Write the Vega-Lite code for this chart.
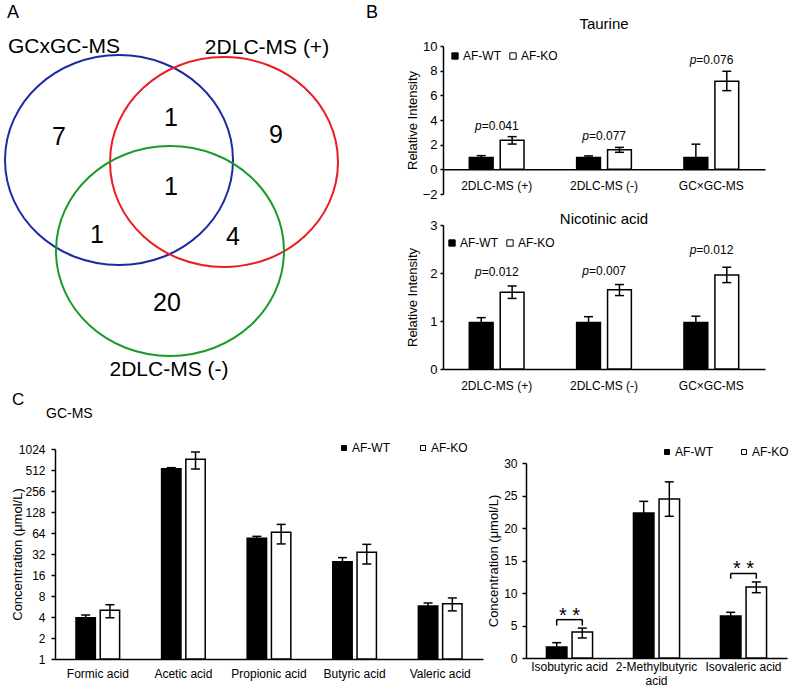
{
  "$schema": "https://vega.github.io/schema/vega-lite/v6.json",
  "padding": 0,
  "spacing": 0,
  "config": {
    "view": {"stroke": null},
    "font": "Liberation Sans",
    "axis": {"domainColor": "black", "domainWidth": 1.5, "tickColor": "black", "tickWidth": 1.5, "labelColor": "black", "titleColor": "black", "labelFont": "Liberation Sans", "titleFont": "Liberation Sans", "labelFontSize": 12, "titleFontSize": 13, "titleFontWeight": "normal", "grid": false, "labelOverlap": false},
    "legend": {"labelFont": "Liberation Sans", "labelFontSize": 12, "labelColor": "black", "symbolType": "square", "symbolStrokeColor": "black", "symbolStrokeWidth": 1, "labelOffset": 2},
    "title": {"font": "Liberation Sans", "fontWeight": "normal", "color": "black"}
  },
  "datasets": {
    "venn_sets": [
      {"set": "GCxGC-MS", "cx": 119, "cy": 160},
      {"set": "2DLC-MS (+)", "cx": 224, "cy": 162},
      {"set": "2DLC-MS (-)", "cx": 170, "cy": 251}
    ],
    "venn_names": [
      {"label": "GCxGC-MS", "x": 64, "y": 47},
      {"label": "2DLC-MS (+)", "x": 267, "y": 48},
      {"label": "2DLC-MS (-)", "x": 169, "y": 370}
    ],
    "venn_counts": [
      {"n": "7", "x": 59, "y": 137},
      {"n": "1", "x": 171, "y": 118},
      {"n": "9", "x": 276, "y": 135},
      {"n": "1", "x": 171, "y": 187},
      {"n": "1", "x": 97, "y": 235},
      {"n": "4", "x": 233, "y": 237},
      {"n": "20", "x": 167, "y": 303}
    ],
    "panel_letters": [
      {"t": "A", "x": 13, "y": 13},
      {"t": "B", "x": 372, "y": 13}
    ],
    "taurine": [
      {"method": "2DLC-MS (+)", "group": "AF-WT", "value": 0.95, "lo": 0.79, "hi": 1.11},
      {"method": "2DLC-MS (+)", "group": "AF-KO", "value": 2.35, "lo": 2.05, "hi": 2.65},
      {"method": "2DLC-MS (-)", "group": "AF-WT", "value": 0.95, "lo": 0.81, "hi": 1.09},
      {"method": "2DLC-MS (-)", "group": "AF-KO", "value": 1.58, "lo": 1.38, "hi": 1.78},
      {"method": "GC×GC-MS", "group": "AF-WT", "value": 0.95, "lo": 0, "hi": 2.04},
      {"method": "GC×GC-MS", "group": "AF-KO", "value": 7.15, "lo": 6.38, "hi": 7.95}
    ],
    "taurine_p": [
      {"method": "2DLC-MS (+)", "ptext": "=0.041", "py": 3.49},
      {"method": "2DLC-MS (-)", "ptext": "=0.077", "py": 2.68},
      {"method": "GC×GC-MS", "ptext": "=0.076", "py": 8.84}
    ],
    "nicotinic": [
      {"method": "2DLC-MS (+)", "group": "AF-WT", "value": 0.97, "lo": 0.87, "hi": 1.07},
      {"method": "2DLC-MS (+)", "group": "AF-KO", "value": 1.6, "lo": 1.47, "hi": 1.73},
      {"method": "2DLC-MS (-)", "group": "AF-WT", "value": 0.97, "lo": 0.85, "hi": 1.09},
      {"method": "2DLC-MS (-)", "group": "AF-KO", "value": 1.65, "lo": 1.53, "hi": 1.76},
      {"method": "GC×GC-MS", "group": "AF-WT", "value": 0.97, "lo": 0.84, "hi": 1.1},
      {"method": "GC×GC-MS", "group": "AF-KO", "value": 1.96, "lo": 1.8, "hi": 2.12}
    ],
    "nicotinic_p": [
      {"method": "2DLC-MS (+)", "ptext": "=0.012", "py": 2.03},
      {"method": "2DLC-MS (-)", "ptext": "=0.007", "py": 2.05},
      {"method": "GC×GC-MS", "ptext": "=0.012", "py": 2.48}
    ],
    "gc1": [
      {"acid": "Formic acid", "group": "AF-WT", "value": 3.9, "lo": 3.55, "hi": 4.27},
      {"acid": "Formic acid", "group": "AF-KO", "value": 5.0, "lo": 3.9, "hi": 6.0},
      {"acid": "Acetic acid", "group": "AF-WT", "value": 535, "lo": 517, "hi": 553},
      {"acid": "Acetic acid", "group": "AF-KO", "value": 728, "lo": 529, "hi": 927},
      {"acid": "Propionic acid", "group": "AF-WT", "value": 53.7, "lo": 50.2, "hi": 57.3},
      {"acid": "Propionic acid", "group": "AF-KO", "value": 65.4, "lo": 44.6, "hi": 85},
      {"acid": "Butyric acid", "group": "AF-WT", "value": 24.8, "lo": 21.2, "hi": 28.4},
      {"acid": "Butyric acid", "group": "AF-KO", "value": 33.8, "lo": 23, "hi": 44},
      {"acid": "Valeric acid", "group": "AF-WT", "value": 5.75, "lo": 5.2, "hi": 6.35},
      {"acid": "Valeric acid", "group": "AF-KO", "value": 6.2, "lo": 4.9, "hi": 7.5}
    ],
    "gc2": [
      {"acid": "Isobutyric acid", "group": "AF-WT", "value": 1.69, "lo": 1.0, "hi": 2.36},
      {"acid": "Isobutyric acid", "group": "AF-KO", "value": 4.0, "lo": 3.08, "hi": 4.6},
      {"acid": "2-Methylbutyric acid", "group": "AF-WT", "value": 22.3, "lo": 20.5, "hi": 24.1},
      {"acid": "2-Methylbutyric acid", "group": "AF-KO", "value": 24.46, "lo": 21.8, "hi": 27.1},
      {"acid": "Isovaleric acid", "group": "AF-WT", "value": 6.46, "lo": 5.9, "hi": 7.03},
      {"acid": "Isovaleric acid", "group": "AF-KO", "value": 10.92, "lo": 10.05, "hi": 11.7}
    ],
    "bracket_legs": [
      {"acid": "Isobutyric acid", "group": "AF-WT", "top": 5.9, "bot": 5.0},
      {"acid": "Isobutyric acid", "group": "AF-KO", "top": 5.9, "bot": 5.0},
      {"acid": "Isovaleric acid", "group": "AF-WT", "top": 13.0, "bot": 12.2},
      {"acid": "Isovaleric acid", "group": "AF-KO", "top": 13.0, "bot": 12.2}
    ],
    "stars": [
      {"acid": "Isobutyric acid", "top": 5.9, "star": 6.5, "label": "* *"},
      {"acid": "Isovaleric acid", "top": 13.0, "star": 13.7, "label": "* *"}
    ]
  },
  "resolve": {"scale": {"color": "independent"}, "legend": {"color": "independent"}},
  "vconcat": [
    {
      "spacing": 6,
      "resolve": {"scale": {"color": "independent"}, "legend": {"color": "independent"}},
      "hconcat": [
        {
          "width": 400,
          "height": 380,
          "layer": [
            {
              "data": {"name": "venn_sets"},
              "mark": {"type": "point", "shape": "M -1 0 A 1 0.921 0 1 1 1 0 A 1 0.921 0 1 1 -1 0 Z", "size": 51984, "filled": false, "strokeWidth": 2, "opacity": 1},
              "encoding": {
                "x": {"field": "cx", "type": "quantitative", "scale": {"domain": [0, 400], "nice": false}, "axis": null},
                "y": {"field": "cy", "type": "quantitative", "scale": {"domain": [0, 380], "nice": false, "reverse": true}, "axis": null},
                "color": {"field": "set", "type": "nominal", "scale": {"domain": ["GCxGC-MS", "2DLC-MS (+)", "2DLC-MS (-)"], "range": ["#1b2ca3", "#ec1c24", "#1a9a2a"]}, "legend": null}
              }
            },
            {
              "data": {"name": "venn_names"},
              "mark": {"type": "text", "fontSize": 21, "align": "center", "baseline": "middle", "color": "black"},
              "encoding": {
                "x": {"field": "x", "type": "quantitative"},
                "y": {"field": "y", "type": "quantitative"},
                "text": {"field": "label"}
              }
            },
            {
              "data": {"name": "venn_counts"},
              "mark": {"type": "text", "fontSize": 25, "align": "center", "baseline": "middle", "color": "black"},
              "encoding": {
                "x": {"field": "x", "type": "quantitative"},
                "y": {"field": "y", "type": "quantitative"},
                "text": {"field": "n"}
              }
            },
            {
              "data": {"name": "panel_letters"},
              "mark": {"type": "text", "fontSize": 18, "align": "center", "baseline": "middle", "color": "black"},
              "encoding": {
                "x": {"field": "x", "type": "quantitative"},
                "y": {"field": "y", "type": "quantitative"},
                "text": {"field": "t"}
              }
            }
          ]
        },
        {
          "spacing": 11,
          "resolve": {"scale": {"color": "independent", "xOffset": "independent"}, "legend": {"color": "independent"}},
          "vconcat": [
            {"width": 300, "height": 6, "data": {"values": []}, "mark": "point"},
            {
              "width": 322,
              "height": 148,
              "title": {"text": "Taurine", "fontSize": 15, "offset": 8},
              "data": {"name": "taurine"},
              "encoding": {
                "x": {"field": "method", "type": "nominal", "sort": null, "scale": {"paddingInner": 0.49, "paddingOuter": 0.245}, "axis": {"title": null, "labelAngle": 0, "ticks": false, "labelPadding": 11, "offset": -24.67}}
              },
              "layer": [
                {
                  "mark": {"type": "bar", "stroke": "black", "strokeWidth": 1.5},
                  "encoding": {
                    "xOffset": {"field": "group", "type": "nominal", "sort": null, "scale": {"paddingInner": 0.23}},
                    "y": {"field": "value", "type": "quantitative", "scale": {"domain": [-2, 10], "nice": false, "zero": false}, "axis": {"title": "Relative Intensity", "values": [-2, 0, 2, 4, 6, 8, 10], "format": "d", "tickCount": 20, "labelOverlap": false, "labelFontSize": 13, "tickSize": 3, "labelPadding": 3, "minExtent": 20, "maxExtent": 20, "titlePadding": 4}},
                    "color": {"field": "group", "type": "nominal", "sort": null, "scale": {"domain": ["AF-WT", "AF-KO"], "range": ["#000000", "#ffffff"]}, "legend": {"title": null, "orient": "none", "direction": "horizontal", "legendX": 6, "legendY": 4, "columnPadding": 6, "symbolSize": 40}}
                  }
                },
                {
                  "mark": {"type": "rule", "strokeWidth": 1.5, "color": "black"},
                  "encoding": {
                    "xOffset": {"field": "group", "type": "nominal", "sort": null},
                    "y": {"field": "lo", "type": "quantitative"},
                    "y2": {"field": "hi"}
                  }
                },
                {
                  "mark": {"type": "tick", "size": 9, "thickness": 1.5, "color": "black", "opacity": 1},
                  "encoding": {
                    "xOffset": {"field": "group", "type": "nominal", "sort": null},
                    "y": {"field": "hi", "type": "quantitative"}
                  }
                },
                {
                  "mark": {"type": "tick", "size": 9, "thickness": 1.5, "color": "black", "opacity": 1},
                  "encoding": {
                    "xOffset": {"field": "group", "type": "nominal", "sort": null},
                    "y": {"field": "lo", "type": "quantitative"}
                  }
                },
                {
                  "data": {"name": "taurine_p"},
                  "mark": {"type": "text", "text": "p", "fontStyle": "italic", "align": "right", "baseline": "middle", "dx": -15, "fontSize": 12, "color": "black"},
                  "encoding": {"y": {"field": "py", "type": "quantitative"}}
                },
                {
                  "data": {"name": "taurine_p"},
                  "mark": {"type": "text", "align": "left", "baseline": "middle", "dx": -15, "fontSize": 12, "color": "black"},
                  "encoding": {"y": {"field": "py", "type": "quantitative"}, "text": {"field": "ptext"}}
                }
              ]
            },
            {
              "width": 322,
              "height": 144,
              "title": {"text": "Nicotinic acid", "fontSize": 15, "offset": -8},
              "data": {"name": "nicotinic"},
              "encoding": {
                "x": {"field": "method", "type": "nominal", "sort": null, "scale": {"paddingInner": 0.49, "paddingOuter": 0.245}, "axis": {"title": null, "labelAngle": 0, "ticks": false, "labelPadding": 11}}
              },
              "layer": [
                {
                  "mark": {"type": "bar", "stroke": "black", "strokeWidth": 1.5},
                  "encoding": {
                    "xOffset": {"field": "group", "type": "nominal", "sort": null, "scale": {"paddingInner": 0.23}},
                    "y": {"field": "value", "type": "quantitative", "scale": {"domain": [0, 3], "nice": false}, "axis": {"title": "Relative Intensity", "values": [0, 1, 2, 3], "format": "d", "tickCount": 20, "labelOverlap": false, "labelFontSize": 13, "tickSize": 3, "labelPadding": 3, "minExtent": 20, "maxExtent": 20, "titlePadding": 4}},
                    "color": {"field": "group", "type": "nominal", "sort": null, "scale": {"domain": ["AF-WT", "AF-KO"], "range": ["#000000", "#ffffff"]}, "legend": {"title": null, "orient": "none", "direction": "horizontal", "legendX": 3, "legendY": 12, "columnPadding": 6, "symbolSize": 40}}
                  }
                },
                {
                  "mark": {"type": "rule", "strokeWidth": 1.5, "color": "black"},
                  "encoding": {
                    "xOffset": {"field": "group", "type": "nominal", "sort": null},
                    "y": {"field": "lo", "type": "quantitative"},
                    "y2": {"field": "hi"}
                  }
                },
                {
                  "mark": {"type": "tick", "size": 9, "thickness": 1.5, "color": "black", "opacity": 1},
                  "encoding": {
                    "xOffset": {"field": "group", "type": "nominal", "sort": null},
                    "y": {"field": "hi", "type": "quantitative"}
                  }
                },
                {
                  "mark": {"type": "tick", "size": 9, "thickness": 1.5, "color": "black", "opacity": 1},
                  "encoding": {
                    "xOffset": {"field": "group", "type": "nominal", "sort": null},
                    "y": {"field": "lo", "type": "quantitative"}
                  }
                },
                {
                  "data": {"name": "nicotinic_p"},
                  "mark": {"type": "text", "text": "p", "fontStyle": "italic", "align": "right", "baseline": "middle", "dx": -15, "fontSize": 12, "color": "black"},
                  "encoding": {"y": {"field": "py", "type": "quantitative"}}
                },
                {
                  "data": {"name": "nicotinic_p"},
                  "mark": {"type": "text", "align": "left", "baseline": "middle", "dx": -15, "fontSize": 12, "color": "black"},
                  "encoding": {"y": {"field": "py", "type": "quantitative"}, "text": {"field": "ptext"}}
                }
              ]
            }
          ]
        }
      ]
    },
    {
      "title": {"text": "C", "anchor": "start", "fontSize": 17, "dx": 12, "offset": -2},
      "resolve": {"scale": {"color": "independent"}, "legend": {"color": "independent"}},
      "vconcat": [
        {
          "title": {"text": "GC-MS", "anchor": "start", "fontSize": 14, "dx": 46, "offset": 21},
          "spacing": 4,
          "resolve": {"scale": {"color": "independent", "xOffset": "independent"}, "legend": {"color": "independent"}},
          "hconcat": [
            {"width": 7, "height": 10, "data": {"values": []}, "mark": "point"},
            {
              "width": 428,
              "height": 210,
              "data": {"name": "gc1"},
              "encoding": {
                "x": {"field": "acid", "type": "nominal", "sort": null, "scale": {"paddingInner": 0.49, "paddingOuter": 0.245}, "axis": {"title": null, "labelAngle": 0, "ticks": false, "labelPadding": 9}}
              },
              "layer": [
                {
                  "mark": {"type": "bar", "stroke": "black", "strokeWidth": 1.5},
                  "encoding": {
                    "xOffset": {"field": "group", "type": "nominal", "sort": null, "scale": {"paddingInner": 0.2}},
                    "y": {"field": "value", "type": "quantitative", "scale": {"type": "log", "base": 2, "domain": [1, 1024], "nice": false}, "axis": {"title": "Concentration (μmol/L)", "values": [1, 2, 4, 8, 16, 32, 64, 128, 256, 512, 1024], "tickCount": 20, "format": "d", "labelOverlap": false, "tickSize": 4, "labelPadding": 6, "minExtent": 27, "maxExtent": 27, "titlePadding": 4}},
                    "y2": {"datum": 1},
                    "color": {"field": "group", "type": "nominal", "sort": null, "scale": {"domain": ["AF-WT", "AF-KO"], "range": ["#000000", "#ffffff"]}, "legend": {"title": null, "orient": "none", "direction": "horizontal", "legendX": 283, "legendY": -7, "columnPadding": 27, "symbolSize": 25}}
                  }
                },
                {
                  "mark": {"type": "rule", "strokeWidth": 1.5, "color": "black"},
                  "encoding": {
                    "xOffset": {"field": "group", "type": "nominal", "sort": null},
                    "y": {"field": "lo", "type": "quantitative"},
                    "y2": {"field": "hi"}
                  }
                },
                {
                  "mark": {"type": "tick", "size": 9, "thickness": 1.5, "color": "black", "opacity": 1},
                  "encoding": {
                    "xOffset": {"field": "group", "type": "nominal", "sort": null},
                    "y": {"field": "hi", "type": "quantitative"}
                  }
                },
                {
                  "mark": {"type": "tick", "size": 9, "thickness": 1.5, "color": "black", "opacity": 1},
                  "encoding": {
                    "xOffset": {"field": "group", "type": "nominal", "sort": null},
                    "y": {"field": "lo", "type": "quantitative"}
                  }
                }
              ]
            },
            {
              "width": 261,
              "height": 209,
              "data": {"name": "gc2"},
              "encoding": {
                "x": {"field": "acid", "type": "nominal", "sort": null, "scale": {"paddingInner": 0.47, "paddingOuter": 0.235}, "axis": {"title": null, "labelAngle": 0, "ticks": false, "labelPadding": 3, "labelLineHeight": 14, "labelExpr": "datum.label == '2-Methylbutyric acid' ? ['2-Methylbutyric', 'acid'] : datum.label"}}
              },
              "layer": [
                {
                  "mark": {"type": "bar", "stroke": "black", "strokeWidth": 1.5},
                  "encoding": {
                    "xOffset": {"field": "group", "type": "nominal", "sort": null, "scale": {"paddingInner": 0.2}},
                    "y": {"field": "value", "type": "quantitative", "scale": {"domain": [0, 30], "nice": false, "range": [209, 14]}, "axis": {"title": "Concentration (μmol/L)", "values": [0, 5, 10, 15, 20, 25, 30], "format": "d", "tickCount": 20, "labelOverlap": false, "tickSize": 4, "labelPadding": 5, "minExtent": 22, "maxExtent": 22, "titlePadding": 4}},
                    "color": {"field": "group", "type": "nominal", "sort": null, "scale": {"domain": ["AF-WT", "AF-KO"], "range": ["#000000", "#ffffff"]}, "legend": {"title": null, "orient": "none", "direction": "horizontal", "legendX": 135, "legendY": -3, "columnPadding": 25, "symbolSize": 25}}
                  }
                },
                {
                  "mark": {"type": "rule", "strokeWidth": 1.5, "color": "black"},
                  "encoding": {
                    "xOffset": {"field": "group", "type": "nominal", "sort": null},
                    "y": {"field": "lo", "type": "quantitative"},
                    "y2": {"field": "hi"}
                  }
                },
                {
                  "mark": {"type": "tick", "size": 9, "thickness": 1.5, "color": "black", "opacity": 1},
                  "encoding": {
                    "xOffset": {"field": "group", "type": "nominal", "sort": null},
                    "y": {"field": "hi", "type": "quantitative"}
                  }
                },
                {
                  "mark": {"type": "tick", "size": 9, "thickness": 1.5, "color": "black", "opacity": 1},
                  "encoding": {
                    "xOffset": {"field": "group", "type": "nominal", "sort": null},
                    "y": {"field": "lo", "type": "quantitative"}
                  }
                },
                {
                  "data": {"name": "bracket_legs"},
                  "mark": {"type": "rule", "strokeWidth": 1.5, "color": "black"},
                  "encoding": {
                    "xOffset": {"field": "group", "type": "nominal", "sort": null},
                    "y": {"field": "top", "type": "quantitative"},
                    "y2": {"field": "bot"}
                  }
                },
                {
                  "data": {"name": "stars"},
                  "mark": {"type": "tick", "size": 26, "thickness": 1.5, "color": "black", "opacity": 1},
                  "encoding": {"y": {"field": "top", "type": "quantitative"}}
                },
                {
                  "data": {"name": "stars"},
                  "mark": {"type": "text", "fontSize": 20, "align": "center", "baseline": "middle", "color": "black"},
                  "encoding": {"y": {"field": "star", "type": "quantitative"}, "text": {"field": "label"}}
                }
              ]
            }
          ]
        }
      ]
    }
  ]
}
